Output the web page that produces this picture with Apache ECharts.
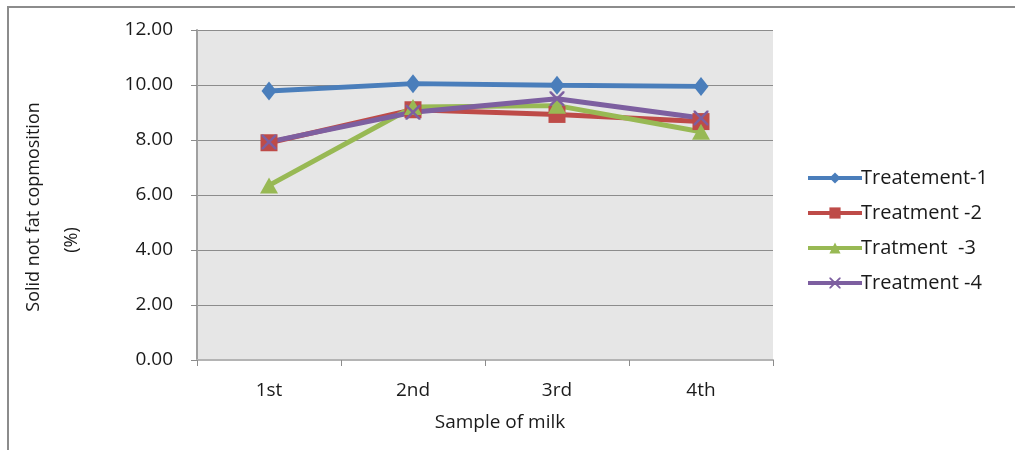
<!DOCTYPE html>
<html>
<head>
<meta charset="utf-8">
<script src="https://cdn.jsdelivr.net/npm/echarts@6/dist/echarts.min.js"></script>
<style>
  html, body { margin: 0; padding: 0; background: #ffffff; }
  #chart { width: 1015px; height: 450px; }
</style>
</head>
<body>
<div id="chart"></div>
<script>
// Milk samples in collection order
const samples = ['1st', '2nd', '3rd', '4th'];

// Solid-not-fat content (%) for each treatment
const treatment1 = [9.78, 10.05, 9.99, 9.95];
const treatment2 = [7.90, 9.10, 8.93, 8.67];
const treatment3 = [6.35, 9.20, 9.25, 8.30];
const treatment4 = [7.93, 9.01, 9.50, 8.80];

const seriesNames = ['Treatement-1', 'Treatment -2', 'Tratment  -3', 'Treatment -4'];

// Value axis ticks
const yMin = 0, yMax = 12, yStep = 2;

const FONT = '"Open Sans", "Liberation Sans", sans-serif';
const crossPath = 'path://M0,0L1.2,0L5,3.8L8.8,0L10,0L10,1.2L6.2,5L10,8.8L10,10L8.8,10L5,6.2L1.2,10L0,10L0,8.8L3.8,5L0,1.2Z';

function lineSeries(name, data, color, symbol, size) {
  return {
    name: name,
    type: 'line',
    data: data,
    symbol: symbol,
    symbolSize: size,
    showSymbol: true,
    lineStyle: { color: color, width: 5 },
    itemStyle: { color: color },
    emphasis: { disabled: true },
    animation: false
  };
}

const chart = echarts.init(document.getElementById('chart'), null, { renderer: 'canvas' });

chart.setOption({
  backgroundColor: '#ffffff',
  animation: false,
  graphic: [
    {
      type: 'rect',
      shape: { x: 8, y: 7, width: 1100, height: 500 },
      style: { fill: 'none', stroke: '#8c8c8c', lineWidth: 2 },
      silent: true,
      z: -10
    }
  ],
  grid: {
    left: 197, top: 30, right: 242, bottom: 90,
    show: true,
    backgroundColor: '#e6e6e6',
    borderWidth: 0
  },
  legend: {
    orient: 'vertical',
    left: 801,
    top: 163,
    itemWidth: 54,
    itemHeight: 14,
    itemGap: 15,
    lineStyle: { width: 4 },
    textStyle: { fontFamily: FONT, fontSize: 20, color: '#1a1a1a', padding: [0, 0, 0, -6] },
    data: seriesNames
  },
  xAxis: {
    type: 'category',
    data: samples,
    boundaryGap: true,
    axisLine: { show: true, lineStyle: { color: '#b4b4b4', width: 2 } },
    axisTick: { show: true, alignWithLabel: false, length: 6, lineStyle: { color: '#8c8c8c' } },
    axisLabel: { margin: 21, fontFamily: FONT, fontSize: 19, color: '#1a1a1a' },
    name: 'Sample of milk',
    nameLocation: 'middle',
    nameGap: 53,
    nameTextStyle: { fontFamily: FONT, fontSize: 19, color: '#1a1a1a', padding: [0, 0, 0, 30] },
    splitLine: { show: false }
  },
  yAxis: {
    type: 'value',
    min: yMin,
    max: yMax,
    interval: yStep,
    axisLine: { show: true, lineStyle: { color: '#a0a0a0', width: 2 } },
    axisTick: { show: true, length: 6, lineStyle: { color: '#8c8c8c' } },
    axisLabel: {
      margin: 24,
      fontFamily: FONT, fontSize: 19, color: '#1a1a1a',
      formatter: v => v.toFixed(2)
    },
    splitLine: { show: true, lineStyle: { color: '#8c8c8c', width: 1 } },
    name: '{a|Solid not fat copmosition}\n{b|(%)}',
    nameLocation: 'middle',
    nameRotate: 90,
    nameGap: 106,
    nameTextStyle: {
      fontFamily: FONT, fontSize: 18, color: '#1a1a1a', align: 'center',
      rich: {
        a: { fontFamily: FONT, fontSize: 18, color: '#1a1a1a', lineHeight: 38, padding: [0, 24, 0, 0] },
        b: { fontFamily: FONT, fontSize: 18, color: '#1a1a1a', lineHeight: 38, padding: [0, 90, 0, 0] }
      }
    }
  },
  series: [
    lineSeries(seriesNames[0], treatment1, '#4a7ebb', 'diamond', [15, 19]),
    lineSeries(seriesNames[1], treatment2, '#be4b48', 'rect', 17),
    lineSeries(seriesNames[2], treatment3, '#98b954', 'triangle', [18, 16]),
    lineSeries(seriesNames[3], treatment4, '#7d5fa0', crossPath, 15)
  ]
});
</script>
</body>
</html>
